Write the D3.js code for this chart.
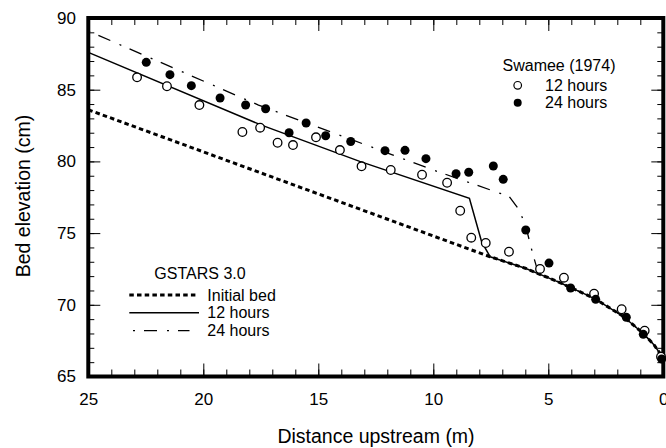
<!doctype html>
<html lang="en">
<head>
<meta charset="UTF-8" />
<script src="https://d3js.org/d3.v7.min.js"></script>
<title>Bed elevation</title>
<style>
  body { margin: 0; background: #fff; }
  svg { display: block; font-family: "Liberation Sans", Arial, sans-serif; }
</style>
</head>
<body>
<div id="chart"></div>
<script>
// Data
// GSTARS 3.0 computed profiles: [distance upstream (m), bed elevation (cm)]
const initialBed = [[25, 83.6], [7.53, 73.35], [6.0, 72.55], [4.5, 71.55], [3.0, 70.45],
  [1.75, 69.2], [0.87, 68.0], [0.4, 67.2], [0.14, 66.6], [0, 66.15]]
const gstars12 = [[25, 87.6], [17.5, 82.55], [13.2, 80.0], [8.43, 77.43], [7.9, 74.4],
  [7.53, 73.35], [6.0, 72.55], [4.5, 71.55], [3.0, 70.45], [1.75, 69.2], [0.87, 68.0],
  [0.4, 67.2], [0.14, 66.6], [0, 66.15]]
const gstars24 = [[25, 89.1], [17.6, 83.93], [10, 79.4], [6.7, 77.55], [6.3, 76.7],
  [6.0, 75.6], [5.7, 73.7], [5.45, 72.3], [4.5, 71.55], [3.0, 70.45], [1.75, 69.2],
  [0.87, 68.0], [0.4, 67.2], [0.14, 66.6], [0, 66.15]]

// Swamee (1974) measurements
const swamee12 = [[22.88, 85.86], [21.58, 85.24], [20.17, 83.93], [18.3, 82.05], [17.53, 82.35],
  [16.77, 81.3], [16.1, 81.14], [15.1, 81.68], [14.06, 80.79], [13.12, 79.66], [11.85, 79.4],
  [10.49, 79.07], [9.4, 78.51], [8.83, 76.56], [8.35, 74.68], [7.72, 74.31], [6.71, 73.7],
  [5.36, 72.5], [4.32, 71.89], [3.01, 70.77], [1.81, 69.69], [0.81, 68.19], [0.1, 66.38]]
const swamee24 = [[22.48, 86.91], [21.45, 86.05], [20.52, 85.28], [19.27, 84.42], [18.16, 83.93],
  [17.29, 83.67], [16.27, 82.0], [15.53, 82.68], [14.68, 81.79], [13.59, 81.39], [12.1, 80.75],
  [11.23, 80.77], [10.32, 80.19], [9.01, 79.14], [8.46, 79.24], [7.39, 79.68], [6.96, 78.75],
  [5.98, 75.22], [4.97, 72.91], [4.03, 71.17], [2.94, 70.38], [1.61, 69.13], [0.87, 67.94],
  [0.07, 66.22]]

const xMajor = [25, 20, 15, 10, 5, 0]
const yMajor = [65, 70, 75, 80, 85, 90]

const W = 666, H = 448
const plotLeft = 88.3, plotRight = 663.3, plotTop = 18, plotBottom = 376.5

const x = d3.scaleLinear().domain([25, 0]).range([plotLeft, plotRight])
const y = d3.scaleLinear().domain([65, 90]).range([plotBottom, plotTop])

const svg = d3.select("#chart").append("svg")
  .attr("width", W).attr("height", H)

// Axes: ticks point inward, minor every unit
function styleAxis(g) {
  g.select(".domain").remove()
  g.selectAll(".tick line").attr("stroke", "#000").attr("stroke-width", 1)
  g.selectAll(".tick text").attr("fill", "#000").style("font-size", "17px")
    .style("font-family", "'Liberation Sans', Arial, sans-serif")
}

const xMinor = d3.range(0, 26)
const yMinor = d3.range(65, 91)

svg.append("g").attr("transform", `translate(0,${plotBottom})`)
  .call(d3.axisBottom(x).tickValues(xMinor).tickSize(-7).tickFormat(""))
  .call(styleAxis)
svg.append("g").attr("transform", `translate(0,${plotBottom})`)
  .call(d3.axisBottom(x).tickValues(xMajor).tickSize(-13).tickPadding(16.5).tickFormat(d3.format("d")))
  .call(styleAxis)
svg.append("g").attr("transform", `translate(0,${plotTop})`)
  .call(d3.axisTop(x).tickValues(xMinor).tickSize(-7).tickFormat(""))
  .call(styleAxis)
svg.append("g").attr("transform", `translate(0,${plotTop})`)
  .call(d3.axisTop(x).tickValues(xMajor).tickSize(-13).tickFormat(""))
  .call(styleAxis)

svg.append("g").attr("transform", `translate(${plotLeft},0)`)
  .call(d3.axisLeft(y).tickValues(yMinor).tickSize(-6).tickFormat(""))
  .call(styleAxis)
svg.append("g").attr("transform", `translate(${plotLeft},0)`)
  .call(d3.axisLeft(y).tickValues(yMajor).tickSize(-12).tickPadding(12.3).tickFormat(d3.format("d")))
  .call(styleAxis)
svg.append("g").attr("transform", `translate(${plotRight},0)`)
  .call(d3.axisRight(y).tickValues(yMinor).tickSize(-6).tickFormat(""))
  .call(styleAxis)
svg.append("g").attr("transform", `translate(${plotRight},0)`)
  .call(d3.axisRight(y).tickValues(yMajor).tickSize(-12).tickFormat(""))
  .call(styleAxis)

// Frame
svg.append("rect")
  .attr("x", plotLeft).attr("y", plotTop)
  .attr("width", plotRight - plotLeft).attr("height", plotBottom - plotTop)
  .attr("fill", "none").attr("stroke", "#000").attr("stroke-width", 4)

// Axis titles
svg.append("text")
  .attr("x", 376).attr("y", 443)
  .attr("text-anchor", "middle")
  .style("font-size", "19.5px")
  .text("Distance upstream (m)")

svg.append("text")
  .attr("transform", "translate(30,196) rotate(-90)")
  .attr("text-anchor", "middle")
  .style("font-size", "19.5px")
  .text("Bed elevation (cm)")

// Model lines
const line = d3.line().x(d => x(d[0])).y(d => y(d[1]))

const styles = {
  initial: { width: 3, dash: "4.5,3.2" },
  h12: { width: 1.5, dash: null },
  h24: { width: 1.3, dash: "2,9,13,10" }
}

const series = [
  { data: initialBed, s: styles.initial },
  { data: gstars12, s: styles.h12 },
  { data: gstars24, s: styles.h24 }
]

series.forEach(d => {
  svg.append("path")
    .datum(d.data)
    .attr("d", line)
    .attr("fill", "none")
    .attr("stroke", "#000")
    .attr("stroke-width", d.s.width)
    .attr("stroke-dasharray", d.s.dash)
})

// Measured points
svg.selectAll(".open").data(swamee12).enter().append("circle")
  .attr("class", "open")
  .attr("cx", d => x(d[0])).attr("cy", d => y(d[1]))
  .attr("r", 4.3)
  .attr("fill", "#fff").attr("stroke", "#000").attr("stroke-width", 1.3)

svg.selectAll(".filled").data(swamee24).enter().append("circle")
  .attr("class", "filled")
  .attr("cx", d => x(d[0])).attr("cy", d => y(d[1]))
  .attr("r", 4.5)
  .attr("fill", "#000")

// Swamee legend
const leg1 = svg.append("g").style("font-size", "16px")
leg1.append("text").attr("x", 559).attr("y", 71).attr("text-anchor", "middle").text("Swamee (1974)")
leg1.append("circle").attr("cx", 517.7).attr("cy", 85.3).attr("r", 3.8)
  .attr("fill", "#fff").attr("stroke", "#000").attr("stroke-width", 1.2)
leg1.append("text").attr("x", 545).attr("y", 90.7).text("12 hours")
leg1.append("circle").attr("cx", 517.7).attr("cy", 102.7).attr("r", 4).attr("fill", "#000")
leg1.append("text").attr("x", 545).attr("y", 108.3).text("24 hours")

// GSTARS legend
const leg2 = svg.append("g").style("font-size", "16px")
leg2.append("text").attr("x", 200).attr("y", 279).attr("text-anchor", "middle").text("GSTARS 3.0")
const legRows = [
  { label: "Initial bed", s: styles.initial, x0: 129.3, x1: 197.3, yl: 295, yt: 300.7 },
  { label: "12 hours", s: styles.h12, x0: 129.3, x1: 199, yl: 312.7, yt: 318.3 },
  { label: "24 hours", s: styles.h24, x0: 133, x1: 189.5, yl: 330.7, yt: 336.3 }
]
legRows.forEach(r => {
  leg2.append("line")
    .attr("x1", r.x0).attr("x2", r.x1).attr("y1", r.yl).attr("y2", r.yl)
    .attr("stroke", "#000").attr("stroke-width", r.s.width)
    .attr("stroke-dasharray", r.s.dash)
  leg2.append("text").attr("x", 207.3).attr("y", r.yt).text(r.label)
})
</script>
</body>
</html>
